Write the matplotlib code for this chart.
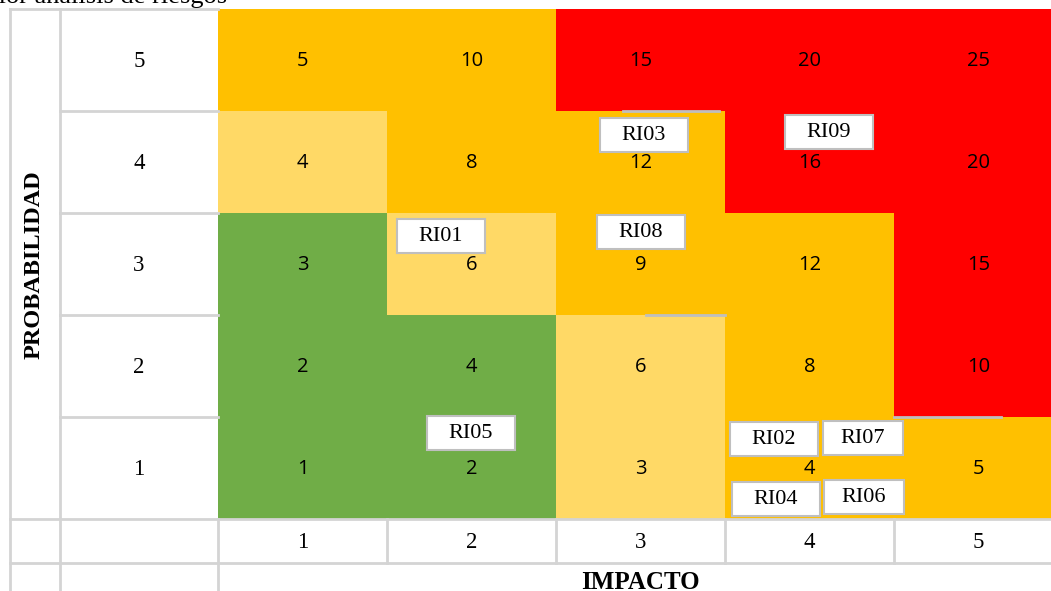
import matplotlib
matplotlib.use("Agg")
import matplotlib.pyplot as plt
from matplotlib.patches import Rectangle

# datos de la matriz
impacto = [1, 2, 3, 4, 5]
probabilidad = [5, 4, 3, 2, 1]
# valor de riesgo por fila (probabilidad 5 -> 1)
valores = [
    [5, 10, 15, 20, 25],
    [4, 8, 12, 16, 20],
    [3, 6, 9, 12, 15],
    [2, 4, 6, 8, 10],
    [1, 2, 3, 4, 5],
]
# nivel de color: 0 bajo, 1 moderado, 2 alto, 3 extremo
niveles = [
    [2, 2, 3, 3, 3],
    [1, 2, 2, 3, 3],
    [0, 1, 2, 2, 3],
    [0, 0, 1, 2, 3],
    [0, 0, 1, 2, 2],
]
colores = ['#70AD47', '#FFD966', '#FFC000', '#FF0000']

# riesgos identificados: (id, impacto, probabilidad)
riesgos = ['RI01', 'RI02', 'RI03', 'RI04', 'RI05', 'RI06', 'RI07', 'RI08', 'RI09']
riesgo_imp = [2, 4, 3, 4, 2, 4, 4, 3, 4]
riesgo_prob = [3, 1, 4, 1, 1, 1, 1, 3, 4]
# desplazamiento de la etiqueta dentro de la celda (px)
desp = {'RI01': (-31, -28), 'RI02': (-36, -29), 'RI03': (3, -27),
        'RI04': (-34, 31), 'RI05': (-1, -35), 'RI06': (54, 29),
        'RI07': (53, -30), 'RI08': (0, -32), 'RI09': (19, -30)}

# layout en pixeles
W, H = 1051, 591
x_cols = [10, 60, 218]
cw, rh = 169, 102
y0 = 8.5
grid = '#D4D4D4'

fig = plt.figure(figsize=(W / 100, H / 100), dpi=100)
ax = fig.add_axes([0, 0, 1, 1])
ax.set_xlim(0, W)
ax.set_ylim(H, 0)
ax.axis('off')

serif = 'Liberation Serif'
sans = 'Open Sans'

def cx(i):
    return x_cols[2] + cw * (i - 0.5)

def cy(p):
    return y0 + rh * (5 - p) + rh / 2

# celdas de color
for r, p in enumerate(probabilidad):
    for c, i in enumerate(impacto):
        ax.add_patch(Rectangle((cx(i) - cw / 2, cy(p) - rh / 2), cw, rh,
                               facecolor=colores[niveles[r][c]], edgecolor='none'))
        ax.text(cx(i), cy(p) + 2, str(valores[r][c]), ha='center', va='center',
                fontsize=14.5, family=sans)

# restos de bordes grises
ax.plot([cx(3) - 18, cx(3) + 78], [cy(4) - rh / 2] * 2, color='#BFBFBF', lw=2)
ax.plot([cx(3) + 5, cx(3) + 84], [cy(2) - rh / 2] * 2, color='#BFBFBF', lw=2)
ax.plot([cx(5) - cw / 2, cx(5) + 22], [cy(1) - rh / 2] * 2, color='#BFBFBF', lw=2)

# tabla izquierda / inferior
y_end = y0 + rh * 5
y_ax = y_end + 44
lw = 2
ax.plot([x_cols[0], x_cols[2]], [y0, y0], color=grid, lw=lw)
ax.plot([x_cols[0]] * 2, [y0, H], color=grid, lw=lw)
ax.plot([x_cols[1]] * 2, [y0, H], color=grid, lw=lw)
ax.plot([x_cols[2]] * 2, [y_end, H], color=grid, lw=lw)
for p in probabilidad[1:]:
    ax.plot([x_cols[1], x_cols[2]], [cy(p) - rh / 2] * 2, color=grid, lw=lw)
for p in probabilidad:
    ax.text((x_cols[1] + x_cols[2]) / 2, cy(p) + 2, str(p), ha='center', va='center',
            fontsize=16.5, family=serif)
ax.plot([x_cols[0], W], [y_end, y_end], color=grid, lw=lw)
ax.plot([x_cols[0], W], [y_ax, y_ax], color=grid, lw=lw)
for i in impacto:
    if i > 1:
        ax.plot([cx(i) - cw / 2] * 2, [y_end, y_ax], color=grid, lw=lw)
    ax.text(cx(i), (y_end + y_ax) / 2 + 2, str(i), ha='center', va='center',
            fontsize=16.5, family=serif)

ax.text((x_cols[0] + x_cols[1]) / 2 - 1, cy(3) + 1, 'PROBABILIDAD', rotation=90,
        ha='center', va='center', fontsize=17.5, family=serif, fontweight='bold')
ax.text(cx(3), 589, 'IMPACTO', ha='center', va='baseline', fontsize=18,
        family=serif, fontweight='bold')

# titulo recortado arriba
ax.text(227, 3, 'Mapa de calor análisis de riesgos', ha='right', va='baseline',
        fontsize=19, family=serif)

# etiquetas de riesgos
for rid, i, p in zip(riesgos, riesgo_imp, riesgo_prob):
    dx, dy = desp[rid]
    bw = 80 if rid in ('RI06', 'RI07') else 88
    x, y = cx(i) + dx, cy(p) + dy
    ax.add_patch(Rectangle((x - bw / 2, y - 17), bw, 34, facecolor='white',
                           edgecolor='#BFBFBF', lw=1.5))
    ax.text(x, y + 1, rid, ha='center', va='center', fontsize=16, family=serif)

fig.savefig('out.png', dpi=100)
